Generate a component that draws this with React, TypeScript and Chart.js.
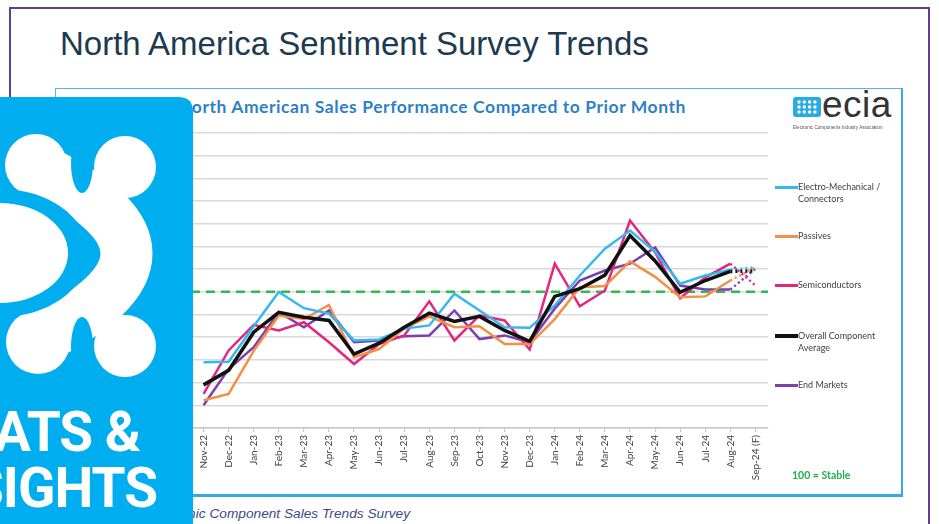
import React, { useEffect, useRef } from "react";
import { Chart, registerables } from "chart.js";

Chart.register(...registerables);

const categories = [
  "Nov-22", "Dec-22", "Jan-23", "Feb-23", "Mar-23", "Apr-23", "May-23", "Jun-23",
  "Jul-23", "Aug-23", "Sep-23", "Oct-23", "Nov-23", "Dec-23", "Jan-24", "Feb-24",
  "Mar-24", "Apr-24", "May-24", "Jun-24", "Jul-24", "Aug-24", "Sep-24 (F)",
];

const electroMechanical = [84.5, 84.6, 92.4, 100, 96.4, 95.2, 89.3, 89.5, 91.9, 92.6, 99.6, 95.9, 92.2, 92.1, 97, 103.6, 109.5, 113.5, 108.8, 101.8, 103.6, 104.9, 105.4];
const passives = [76.1, 77.5, 87, 94.8, 94, 97.1, 85.6, 87.4, 91.9, 94.6, 92.2, 92.4, 88.5, 88.5, 94, 101, 101.3, 106.7, 103.3, 98.8, 99, 102.5, 105.4];
const semiconductors = [77.5, 87.1, 92.7, 91.5, 93.3, 88.9, 84.1, 88.5, 90.4, 97.9, 89.3, 94.8, 93.7, 87.3, 106.2, 96.8, 100.3, 115.7, 108.7, 98.6, 103.2, 106.2, 101.4];
const overallAverage = [79.5, 82.7, 91.1, 95.5, 94.4, 93.7, 86.3, 88.7, 92.2, 95.3, 93.5, 94.6, 91.5, 89.1, 99, 100.7, 103.7, 112.4, 106.8, 99.9, 102.5, 104.5, 104.6];
const endMarkets = [75, 83, 87.8, 95.5, 92.2, 95.9, 88.9, 89.3, 90.2, 90.4, 95.9, 89.6, 90.4, 88.9, 96.3, 102.5, 104.7, 106.2, 109.8, 101.4, 100.5, 100.5, 105.1];

const seriesNames = ["Electro-Mechanical / Connectors", "Passives", "Semiconductors", "Overall Component Average", "End Markets"];
const legendLines = [["Electro-Mechanical /", "Connectors"], ["Passives"], ["Semiconductors"], ["Overall Component", "Average"], ["End Markets"]];
const seriesColors = ["#35b8ee", "#f58f46", "#e2277f", "#111111", "#7b3fae"];
const seriesValues = [electroMechanical, passives, semiconductors, overallAverage, endMarkets];

const stableLevel = 100;
const yMin = 70;
const yMax = 135;
const yStep = 5;

const slideTitle = "North America Sentiment Survey Trends";
const chartTitle = "North American Sales Performance Compared to Prior Month";
const footerText = "ECIA Electronic Component Sales Trends Survey";
const stableText = "100 = Stable";

const stableLinePlugin = {
  id: "stableLine",
  beforeDatasetsDraw(chart: any) {
    const { ctx, chartArea, scales } = chart;
    const y = scales.y.getPixelForValue(stableLevel);
    ctx.save();
    ctx.strokeStyle = "#2fba50";
    ctx.lineWidth = 2.5;
    ctx.setLineDash([9, 6]);
    ctx.beginPath();
    ctx.moveTo(chartArea.left, y);
    ctx.lineTo(chartArea.right, y);
    ctx.stroke();
    ctx.restore();
  },
};

function SalesChart() {
  const ref = useRef<HTMLCanvasElement | null>(null);
  useEffect(() => {
    if (!ref.current) return;
    const last = categories.length - 1;
    const chart = new Chart(ref.current, {
      type: "line",
      data: {
        labels: categories,
        datasets: seriesValues.map((vals, i) => ({
          label: seriesNames[i],
          data: vals,
          borderColor: seriesColors[i],
          backgroundColor: seriesColors[i],
          borderWidth: i === 3 ? 3.5 : 2.5,
          pointRadius: 0,
          tension: 0,
          order: i === 3 ? 0 : 1,
          segment: {
            borderDash: (ctx: any) => (ctx.p1DataIndex === last ? [2, 3] : undefined),
          },
        })),
      },
      options: {
        responsive: false,
        maintainAspectRatio: false,
        animation: false,
        layout: { padding: { left: 5, right: 8, top: 5, bottom: 0 } },
        plugins: { legend: { display: false }, tooltip: { enabled: false }, title: { display: false } },
        scales: {
          x: {
            type: "category",
            offset: true,
            grid: { drawOnChartArea: false, drawTicks: true, tickLength: 4, color: "#c8c8c8", lineWidth: 1.2 },
            border: { color: "#c8c8c8", width: 1.5 },
            ticks: {
              autoSkip: false,
              maxRotation: 90,
              minRotation: 90,
              padding: 3,
              color: "#404040",
              font: { family: "Lato", size: 10 },
            },
            afterFit: (s: any) => { s.height = 62; },
          },
          y: {
            min: yMin,
            max: yMax,
            ticks: { stepSize: yStep, display: false },
            grid: { color: "#d9d9d9", lineWidth: 1.5, drawTicks: false },
            border: { display: false },
            afterFit: (s: any) => { s.width = 0; },
          },
        },
      },
      plugins: [stableLinePlugin],
    } as any);
    return () => chart.destroy();
  }, []);
  return (
    <canvas
      ref={ref}
      width={590}
      height={362}
      style={{ position: "absolute", left: 186, top: 128, width: 590, height: 362 }}
    />
  );
}

function StatsLogo() {
  const blue = "#00adee";
  return (
    <div style={{ position: "absolute", left: 0, top: 97, width: 193, height: 427, overflow: "hidden", zIndex: 5 }}>
      <svg width={193} height={427} style={{ position: "absolute", left: 0, top: 0 }}>
        <path d="M0 0 H178 Q193 0 193 15 V427 H0 Z" fill={blue} />
        <path d="M38 72 Q 215 156 38 242" stroke="#ffffff" strokeWidth={52} fill="none" strokeLinecap="round" />
        <g fill="#ffffff">
          <circle cx={36} cy={68} r={31} />
          <circle cx={125} cy={70} r={31} />
          <circle cx={38} cy={245} r={32} />
          <circle cx={125} cy={249} r={31} />
        </g>
        <ellipse cx={82} cy={66} rx={11} ry={30} fill={blue} />
        <ellipse cx={82} cy={250} rx={11} ry={30} fill={blue} />
        <circle cx={168} cy={110} r={15} fill={blue} />
        <circle cx={168} cy={204} r={15} fill={blue} />
        <ellipse cx={0} cy={156} rx={88} ry={64} fill={blue} />
        <ellipse cx={0} cy={156} rx={68} ry={50} fill="#ffffff" />
      </svg>
      <div style={{ position: "absolute", right: 53, top: 306, whiteSpace: "nowrap", color: "#ffffff", fontFamily: "Roboto", fontWeight: 700, fontSize: 55, lineHeight: "58px", letterSpacing: -1 }}>
        STATS &amp;
      </div>
      <div style={{ position: "absolute", right: 36, top: 362, whiteSpace: "nowrap", color: "#ffffff", fontFamily: "Roboto", fontWeight: 700, fontSize: 55, lineHeight: "58px", letterSpacing: -1 }}>
        INSIGHTS
      </div>
    </div>
  );
}

function EciaLogo() {
  const dots = [];
  for (let r = 0; r < 3; r++) {
    for (let c = 0; c < 4; c++) {
      dots.push(<circle key={r + "-" + c} cx={6 + c * 5.3} cy={5 + r * 5} r={1.7} fill="#ffffff" />);
    }
  }
  return (
    <div style={{ position: "absolute", left: 793, top: 94, width: 105, height: 40 }}>
      <svg width={28} height={20} style={{ position: "absolute", left: 0, top: 3 }}>
        <rect x={0} y={0} width={28} height={20} rx={3} fill="#2aaae2" />
        {dots}
      </svg>
      <div style={{ position: "absolute", left: 29, top: -9, fontFamily: "Liberation Sans", fontSize: 37, lineHeight: "40px", color: "#333333", letterSpacing: 0.5 }}>
        ecia
      </div>
      <div style={{ position: "absolute", left: 0, top: 31, fontFamily: "Liberation Sans", fontSize: 4.6, lineHeight: "6px", color: "#555555", whiteSpace: "nowrap" }}>
        Electronic Components Industry Association
      </div>
    </div>
  );
}

function Legend() {
  const tops = [186.7, 235.7, 285, 335.7, 385];
  return (
    <>
      {legendLines.map((lines, i) => (
        <div key={i} style={{ position: "absolute", left: 775, top: tops[i] - 6, height: 30 }}>
          <div style={{ position: "absolute", left: 0, top: i === 3 ? 4.5 : 5, width: 23, height: i === 3 ? 3.5 : 3, background: seriesColors[i] }} />
          <div style={{ position: "absolute", left: 23, top: 0, fontFamily: "Lato", fontSize: 9, lineHeight: "12px", color: "#404040", whiteSpace: "nowrap" }}>
            {lines.map((l, j) => (<div key={j}>{l}</div>))}
          </div>
        </div>
      ))}
    </>
  );
}

export default function App() {
  return (
    <div style={{ position: "fixed", left: 0, top: 0, width: 939, height: 524, overflow: "hidden", background: "#ffffff" }}>
      <div style={{ position: "absolute", left: 9, top: 7, width: 921, height: 600, border: "2.5px solid #5d3f8e", boxSizing: "border-box" }} />
      <div style={{ position: "absolute", left: 60, top: 27, fontFamily: "Liberation Sans", fontSize: 33, lineHeight: "33px", color: "#1c3a50", whiteSpace: "nowrap" }}>
        {slideTitle}
      </div>
      <div style={{ position: "absolute", left: 55, top: 88, width: 848, height: 409, borderTop: "1.5px solid #55b6e8", borderLeft: "1.5px solid #55b6e8", borderRight: "2px solid #3aa9e2", borderBottom: "3px solid #3aa9e2", boxSizing: "border-box" }} />
      <div style={{ position: "absolute", right: 939 - 686, top: 97, fontFamily: "Lato", fontWeight: 700, fontSize: 17.5, letterSpacing: 0.56, lineHeight: "20px", color: "#2f7fc6", whiteSpace: "nowrap" }}>
        {chartTitle}
      </div>
      <SalesChart />
      <EciaLogo />
      <Legend />
      <div style={{ position: "absolute", left: 792, top: 468, fontFamily: "Lato", fontWeight: 700, fontSize: 10.5, lineHeight: "14px", color: "#22b04b", whiteSpace: "nowrap" }}>
        {stableText}
      </div>
      <div style={{ position: "absolute", right: 939 - 410, top: 506, fontFamily: "Liberation Sans", fontStyle: "italic", fontSize: 13.7, lineHeight: "15px", color: "#3b4a86", whiteSpace: "nowrap" }}>
        {footerText}
      </div>
      <StatsLogo />
    </div>
  );
}
